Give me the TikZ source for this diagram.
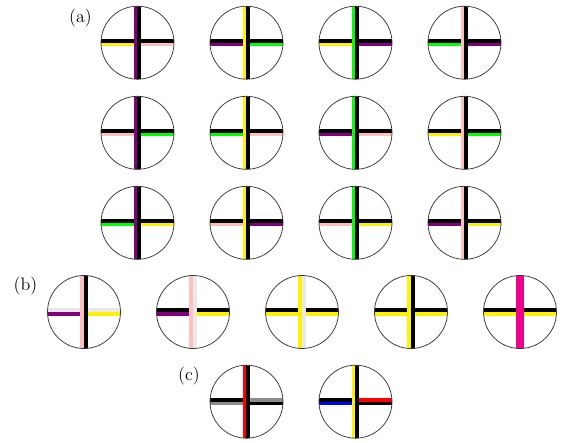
\documentclass[tikz,border=0pt]{standalone}
\usetikzlibrary{positioning}
\definecolor{hotpink}{RGB}{236,0,140}
\colorlet{faint}{black!9}
\colorlet{midgray}{black!45}

% one disc: centre, vertical left/right, horizontal left top/bottom, right top/bottom
\newcommand{\crossdisc}[7]{%
  \begin{scope}[shift={(#1)}]
    \clip (0,0) circle (36.5);
    \draw[strip, #4] (-37,-1.75) -- (0.5,-1.75);
    \draw[strip, #5] (-37,1.75) -- (0.5,1.75);
    \draw[strip, #6] (-0.5,-1.75) -- (37,-1.75);
    \draw[strip, #7] (-0.5,1.75) -- (37,1.75);
    \draw[strip, #2] (-1.75,-37) -- (-1.75,37);
    \draw[strip, #3] (1.75,-37) -- (1.75,37);
  \end{scope}
  \draw[rim] (#1) circle (36.5);
}

\begin{document}
\begin{tikzpicture}[x=0.75pt, y=-0.75pt,
    every node/.style={font=\fontsize{13.5}{16}\selectfont},
    strip/.style={line width=2.65pt},
    rim/.style={draw=black!80, line width=0.55pt}
  ]
\useasboundingbox (0,0) rectangle (569,443);

% (a)
\node (laba) at (80.5,18.5) {(a)};
\foreach \cx/\cy/\vl/\hl/\hr in {
    137.5/42.7/violet/yellow/pink, 246.5/42.7/yellow/violet/green,
    355.5/42.7/green/yellow/violet, 464.5/42.7/pink/green/violet,
    137.5/132.8/violet/pink/green, 246.5/132.8/yellow/green/pink,
    355.5/132.8/green/violet/pink, 464.5/132.8/pink/yellow/green,
    137.5/222.8/violet/green/yellow, 246.5/222.8/yellow/pink/violet,
    355.5/222.8/green/pink/yellow, 464.5/222.8/pink/violet/yellow}{
  \crossdisc{\cx,\cy}{\vl}{black}{black}{\hl}{black}{\hr}
}

% (b)
\node (labb) at (25.5,286.5) {(b)};
\crossdisc{84,312}{pink}{black}{faint}{violet}{faint}{yellow}
\crossdisc{193,312}{pink}{faint}{black}{violet}{black}{yellow}
\crossdisc{302,312}{yellow}{faint}{black}{yellow}{black}{yellow}
\crossdisc{411,312}{yellow}{black}{black}{yellow}{black}{yellow}
\crossdisc{520,312}{hotpink}{hotpink}{black}{yellow}{black}{yellow}

% (c)
\node (labc) at (189,376) {(c)};
\crossdisc{246.5,401.7}{red}{black}{black}{midgray}{midgray}{black}
\crossdisc{355.5,401.7}{yellow}{black}{black}{blue}{red}{black}
\end{tikzpicture}
\end{document}
